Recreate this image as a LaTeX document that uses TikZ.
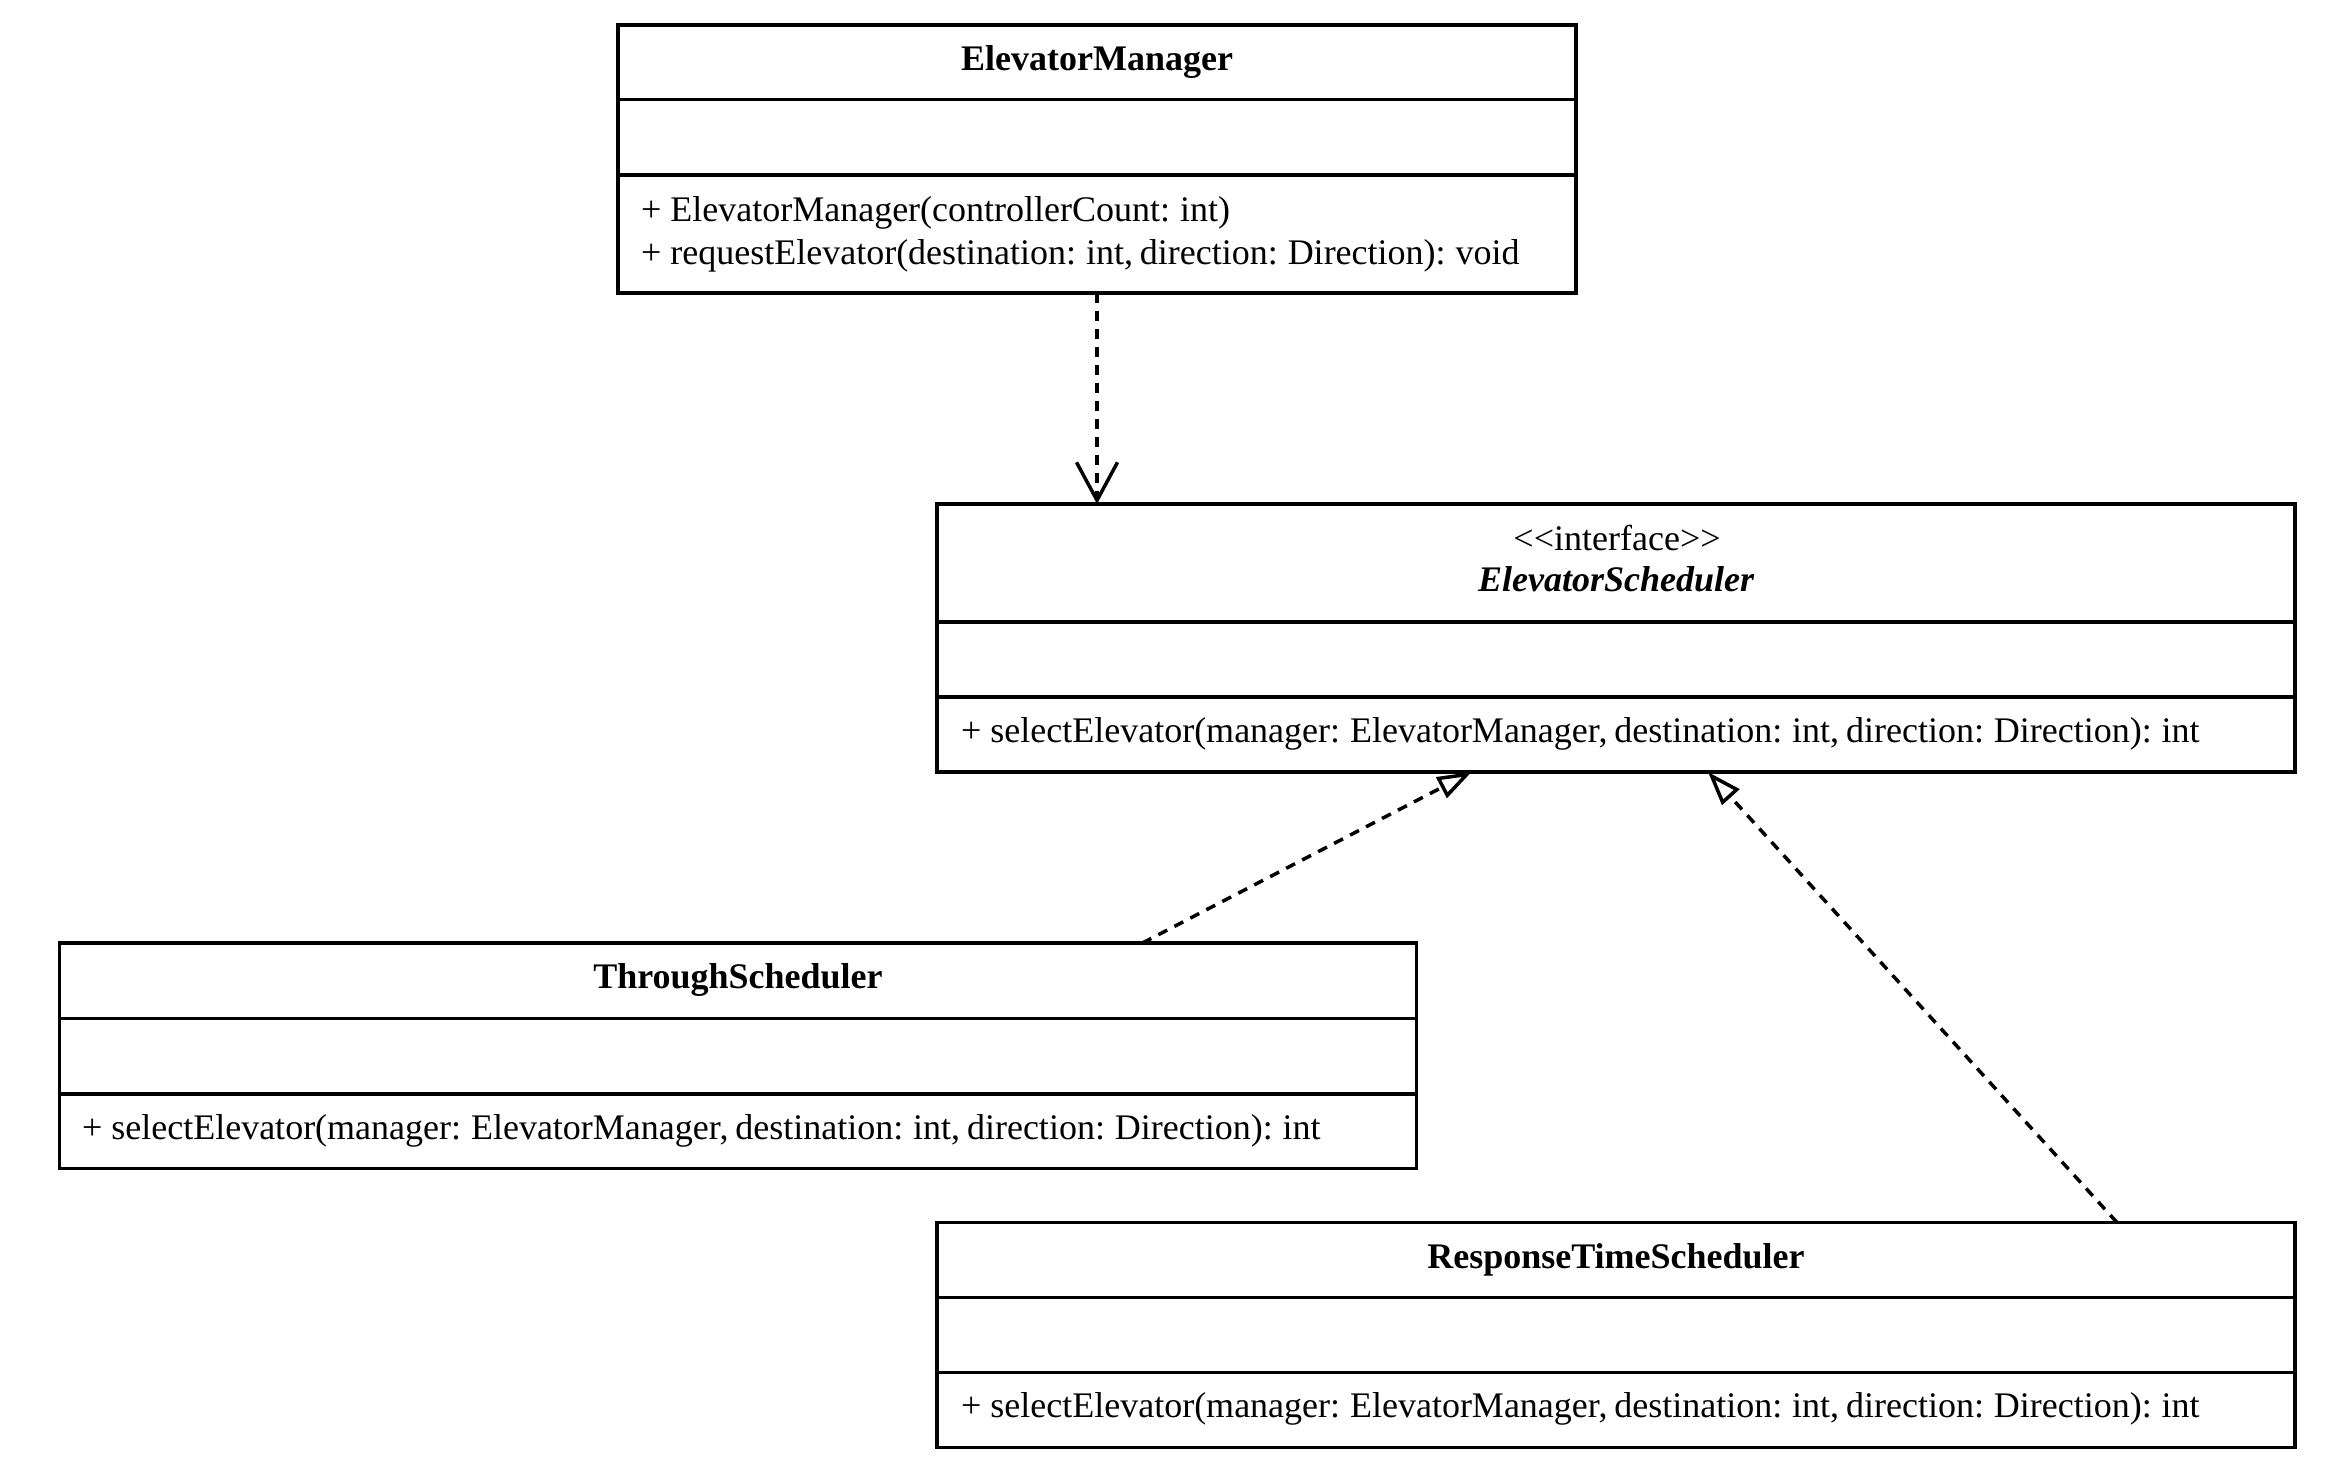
\documentclass[tikz,border=0pt]{standalone}
\usepackage{fontspec}
\newfontfamily\umlfont{Liberation Serif}
\usetikzlibrary{arrows.meta}
\newcommand\umlsize{\fontsize{18pt}{21.6pt}\selectfont\spaceskip=0.19em\relax}
\newcommand\umlplus{+\hspace{0.25em}}
\tikzset{
  classbox/.style={draw, line width=1.75pt, rectangle, inner sep=0pt, outer sep=0pt},
  sepline/.style={line width=1.75pt},
  umltext/.style={inner sep=0pt, outer sep=0pt, font=\umlfont\umlsize},
  titletext/.style={umltext, anchor=base, font=\umlfont\umlsize\bfseries},
  methtext/.style={umltext, anchor=base west},
  depline/.style={line width=1.75pt, dash pattern=on 5pt off 4pt, -{Straight Barb[length=19pt, width=20.5pt]}},
  realline/.style={line width=1.75pt, dash pattern=on 5pt off 4pt, -{Triangle[open, length=17pt, width=11.5pt]}}
}
\begin{document}
\begin{tikzpicture}[x=0.5pt, y=-0.5pt]
\useasboundingbox (0,0) rectangle (2328,1474);

% ElevatorManager
\node[classbox, minimum width=479pt, minimum height=134pt] (em) at (1097,159) {};
\draw[sepline] ([yshift=-37.25pt]em.north west) -- ([yshift=-37.25pt]em.north east);
\draw[sepline] ([yshift=-75pt]em.north west) -- ([yshift=-75pt]em.north east);
\node[titletext] (emtitle) at (1097,70.5) {ElevatorManager};
\node[methtext] (emm1) at (641,221.5) {\umlplus ElevatorManager(controllerCount: int)};
\node[methtext] (emm2) at (641,264.5) {\umlplus requestElevator(destination: int, direction: Direction): void};

% ElevatorScheduler (interface)
\node[classbox, minimum width=679pt, minimum height=134pt] (es) at (1616,638) {};
\draw[sepline] ([yshift=-59pt]es.north west) -- ([yshift=-59pt]es.north east);
\draw[sepline] ([yshift=-96.5pt]es.north west) -- ([yshift=-96.5pt]es.north east);
\node[umltext, anchor=base] (esstereo) at (1617,550) {<\kern0pt<interface>\kern0pt>};
\node[titletext, font=\umlfont\umlsize\bfseries\itshape] (estitle) at (1616,591.7) {ElevatorScheduler};
\node[methtext] (esm) at (961,742) {\umlplus selectElevator(manager: ElevatorManager, destination: int, direction: Direction): int};

% ThroughScheduler
\node[classbox, minimum width=678.5pt, minimum height=112.75pt] (ts) at (738,1055.75) {};
\draw[sepline] ([yshift=-37.75pt]ts.north west) -- ([yshift=-37.75pt]ts.north east);
\draw[sepline] ([yshift=-75.5pt]ts.north west) -- ([yshift=-75.5pt]ts.north east);
\node[titletext] (tstitle) at (738,988.5) {ThroughScheduler};
\node[methtext] (tsm) at (82,1139) {\umlplus selectElevator(manager: ElevatorManager, destination: int, direction: Direction): int};

% ResponseTimeScheduler
\node[classbox, minimum width=679pt, minimum height=112.5pt] (rs) at (1616,1335) {};
\draw[sepline] ([yshift=-37.5pt]rs.north west) -- ([yshift=-37.5pt]rs.north east);
\draw[sepline] ([yshift=-75pt]rs.north west) -- ([yshift=-75pt]rs.north east);
\node[titletext] (rstitle) at (1616,1268) {ResponseTimeScheduler};
\node[methtext] (rsm) at (961,1417.5) {\umlplus selectElevator(manager: ElevatorManager, destination: int, direction: Direction): int};

% connectors
\coordinate (tsout) at ([xshift=202.2pt]ts.north);
\coordinate (tsin) at ([xshift=-72.25pt]es.south);
\coordinate (rsout) at ([xshift=250.5pt]rs.north);
\coordinate (rsin) at ([xshift=46pt]es.south);
\draw[depline] (em.south) -- (em.south |- es.north);
\draw[realline] (tsout) -- (tsin);
\draw[realline] (rsout) -- (rsin);
\end{tikzpicture}
\end{document}
